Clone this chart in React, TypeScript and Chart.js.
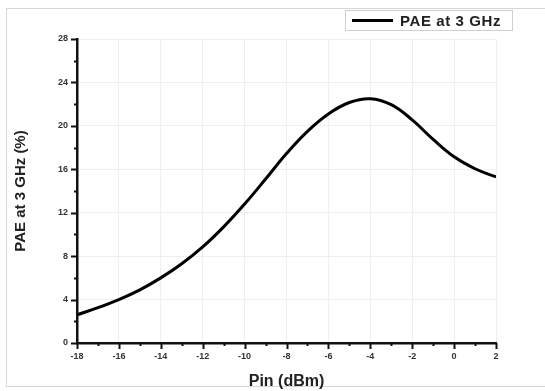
import React, { useEffect, useRef } from "react";
import { Chart, registerables } from "chart.js";

Chart.register(...registerables);

const pinValues: number[] = [-18, -17, -16, -15, -14, -13, -12, -11, -10, -9, -8, -7, -6, -5, -4, -3, -2, -1, 0, 1, 2];
const paeValues: number[] = [2.6, 3.25, 4.0, 4.9, 6.0, 7.3, 8.85, 10.7, 12.8, 15.1, 17.45, 19.5, 21.1, 22.15, 22.5, 21.95, 20.55, 18.75, 17.15, 16.05, 15.3];
const seriesLabel = "PAE at 3 GHz";
const xTitle = "Pin (dBm)";
const yTitle = "PAE at 3 GHz (%)";

const FONT = "'Liberation Sans', Arial, Helvetica, sans-serif";

const tickPlugin = {
  id: "originTicks",
  afterDatasetsDraw(chart: any) {
    const ctx = chart.ctx;
    const xs = chart.scales.x;
    const ys = chart.scales.y;
    const area = chart.chartArea;
    ctx.save();
    ctx.strokeStyle = "#111";
    ctx.lineWidth = 2;
    xs.ticks.forEach((t: any, i: number) => {
      const px = Math.round(xs.getPixelForTick(i)) + 0.5;
      const major = Math.round(t.value) % 2 === 0;
      ctx.beginPath();
      ctx.moveTo(px, area.bottom);
      ctx.lineTo(px, area.bottom + (major ? 6 : 3));
      ctx.stroke();
    });
    ys.ticks.forEach((t: any, i: number) => {
      const py = Math.round(ys.getPixelForTick(i)) + 0.5;
      const major = Math.round(t.value) % 4 === 0;
      ctx.beginPath();
      ctx.moveTo(area.left, py);
      ctx.lineTo(area.left - (major ? 6 : 3), py);
      ctx.stroke();
    });
    ctx.restore();
  },
};

export default function App() {
  const canvasRef = useRef<HTMLCanvasElement | null>(null);

  useEffect(() => {
    if (!canvasRef.current) return;
    const chart = new Chart(canvasRef.current, {
      type: "line",
      data: {
        datasets: [
          {
            label: seriesLabel,
            data: pinValues.map((x, i) => ({ x, y: paeValues[i] })),
            borderColor: "#000",
            borderWidth: 3,
            pointRadius: 0,
            tension: 0.4,
            fill: false,
          },
        ],
      },
      options: {
        animation: false,
        responsive: false,
        maintainAspectRatio: false,
        layout: { padding: { left: 0, right: 49, top: 39, bottom: 0 } },
        plugins: { legend: { display: false }, tooltip: { enabled: false } },
        scales: {
          x: {
            type: "linear",
            min: -18,
            max: 2,
            afterFit: (s: any) => {
              s.height = 48;
            },
            ticks: {
              stepSize: 1,
              autoSkip: false,
              maxRotation: 0,
              padding: 8,
              color: "#333",
              font: { family: FONT, size: 9, weight: "bold" },
              callback: (v: any) => (Math.round(v) % 2 === 0 ? String(v) : ""),
            },
            grid: {
              drawTicks: false,
              color: (c: any) => (c.tick && Math.round(c.tick.value) % 2 === 0 ? "#efefef" : "rgba(0,0,0,0)"),
              lineWidth: 1,
            },
            border: { display: true, color: "#111", width: 2.5 },
            title: {
              display: true,
              text: xTitle,
              color: "#222",
              font: { family: FONT, size: 16, weight: "bold" },
              padding: { top: 0, bottom: 0 },
            },
          },
          y: {
            type: "linear",
            min: 0,
            max: 28,
            afterFit: (s: any) => {
              s.width = 77;
            },
            ticks: {
              stepSize: 2,
              autoSkip: false,
              padding: 9,
              color: "#333",
              font: { family: FONT, size: 9, weight: "bold" },
              callback: (v: any) => (Math.round(v) % 4 === 0 ? String(v) : ""),
            },
            grid: {
              drawTicks: false,
              color: (c: any) => (c.tick && Math.round(c.tick.value) % 4 === 0 ? "#efefef" : "rgba(0,0,0,0)"),
              lineWidth: 1,
            },
            border: { display: true, color: "#111", width: 2.5 },
            title: {
              display: true,
              text: yTitle,
              color: "#222",
              font: { family: FONT, size: 15, weight: "bold" },
              padding: { top: 12, bottom: 0 },
            },
          },
        },
      },
      plugins: [tickPlugin],
    } as any);
    return () => chart.destroy();
  }, []);

  return (
    <div style={{ position: "absolute", left: 0, top: 0, width: 545, height: 391, background: "#fff", overflow: "hidden" }}>
      <div
        style={{
          position: "absolute",
          left: 6,
          top: 8,
          width: 545,
          height: 379,
          borderLeft: "1px solid #d6d6d6",
          borderTop: "1px solid #d6d6d6",
          borderBottom: "1px solid #d6d6d6",
          boxSizing: "border-box",
        }}
      />
      <canvas ref={canvasRef} width={545} height={391} style={{ position: "absolute", left: 0, top: 0, width: 545, height: 391 }} />
      <div
        style={{
          position: "absolute",
          left: 345,
          top: 10,
          width: 168,
          height: 21,
          border: "1px solid #cfcfcf",
          boxSizing: "border-box",
          display: "flex",
          alignItems: "center",
          fontFamily: FONT,
        }}
      >
        <div style={{ marginLeft: 6, width: 41, height: 3, background: "#000" }} />
        <span style={{ marginLeft: 7, fontSize: 15, fontWeight: "bold", color: "#222", letterSpacing: 0.6, whiteSpace: "nowrap" }}>
          {seriesLabel}
        </span>
      </div>
    </div>
  );
}
